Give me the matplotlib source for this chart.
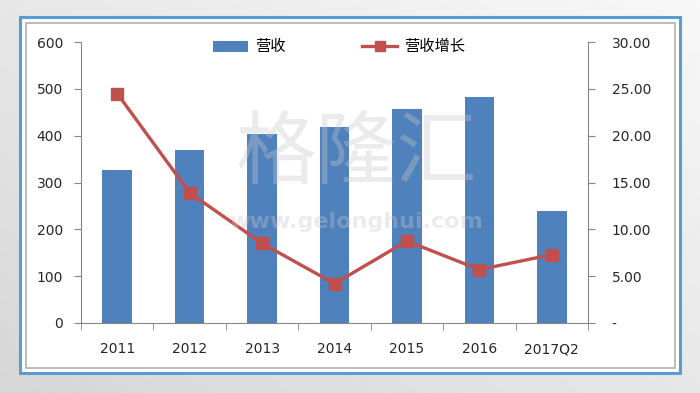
import numpy as np
import matplotlib
matplotlib.use('Agg')
import matplotlib.pyplot as plt
from matplotlib.patches import Rectangle
from matplotlib.lines import Line2D
from matplotlib.patches import Patch

plt.rcParams['font.family'] = ['DejaVu Sans', 'Noto Sans CJK SC']

categories = ['2011', '2012', '2013', '2014', '2015', '2016', '2017Q2']
revenue = [327, 370, 404, 419, 457, 483, 239]
growth = [24.5, 13.9, 8.5, 4.2, 8.75, 5.7, 7.3]

W, H = 700, 393
fig = plt.figure(figsize=(7, 3.93), dpi=100)

# grey gradient background
bg = fig.add_axes([0, 0, 1, 1], zorder=-10)
grad = np.linspace(0, 1, 256)
gx, gy = np.meshgrid(grad, grad)
bg.imshow(0.84 + 0.13 * (0.5 * gx + 0.5 * (1 - gy)), cmap='gray', vmin=0, vmax=1,
          aspect='auto', extent=[0, 1, 0, 1])
bg.set_axis_off()


def px(x0, y0, x1, y1):
    return (x0 / W, 1 - y1 / H), (x1 - x0) / W, (y1 - y0) / H


xy, w, h = px(20, 17, 680, 373)
fig.patches.append(Rectangle(xy, w, h, transform=fig.transFigure, facecolor='white',
                             edgecolor='#5b9bd5', linewidth=2.2, zorder=-5))
xy, w, h = px(26, 23, 675, 368)
fig.patches.append(Rectangle(xy, w, h, transform=fig.transFigure, facecolor='white',
                             edgecolor='#b0b0b0', linewidth=1.2, zorder=-4))

ax = fig.add_axes([81 / W, 1 - 323 / H, (588 - 81) / W, (323 - 42) / H])
ax.patch.set_alpha(0)
x = np.arange(len(categories))

ax.bar(x, revenue, width=0.41, color='#4f81bd', zorder=2)
ax.set_xlim(-0.5, len(categories) - 0.5)
ax.set_ylim(0, 600)
ax.set_yticks(range(0, 601, 100))
ax.set_xticks(x)
ax.set_xticklabels(categories)
ax.set_xticks(np.arange(-0.5, len(categories), 1), minor=True)
ax.tick_params(axis='x', which='major', length=0, pad=14, labelsize=10, colors='#262626')
ax.tick_params(axis='x', which='minor', length=5, color='#868686', direction='out')
ax.tick_params(axis='y', length=5, color='#868686', labelsize=10, labelcolor='#262626', pad=8)
for s in ['top', 'right']:
    ax.spines[s].set_visible(False)
ax.spines['left'].set_color('#868686')
ax.spines['bottom'].set_color('#868686')

ax2 = ax.twinx()
ax2.plot(x, growth, color='#c0504d', linewidth=2.4, marker='s', markersize=9,
         markerfacecolor='#c0504d', markeredgecolor='#c0504d', zorder=3)
ax2.set_ylim(0, 30)
ax2.set_yticks(range(0, 31, 5))
ax2.set_yticklabels(['-'] + ['%.2f' % v for v in range(5, 31, 5)])
ax2.tick_params(axis='y', length=5, color='#868686', labelsize=10, labelcolor='#262626', pad=12)
for s in ['top', 'left', 'bottom']:
    ax2.spines[s].set_visible(False)
ax2.spines['right'].set_color('#868686')

# watermark over the bars, very faint
ax2.text(3.3, 18.0, '格隆汇', fontsize=58, color='#c8c8c8', alpha=0.35, ha='center', va='center',
         family=['Noto Sans CJK SC'], fontweight='light', zorder=5)
ax2.text(3.3, 10.8, 'www.gelonghui.com', fontsize=16, color='#c8c8c8', alpha=0.35,
         ha='center', va='center', fontweight='bold', zorder=5)

handles = [Patch(facecolor='#4f81bd'),
           Line2D([0], [0], color='#c0504d', linewidth=2.4, marker='s', markersize=7)]
fig.legend(handles, ['营收', '营收增长'], loc='center', bbox_to_anchor=(339 / W, 1 - 47 / H),
           ncol=2, frameon=False, columnspacing=5.0, handlelength=2.3, handletextpad=0.45,
           prop={'family': ['Noto Sans CJK SC'], 'size': 11})

fig.savefig('out.png', dpi=100)
